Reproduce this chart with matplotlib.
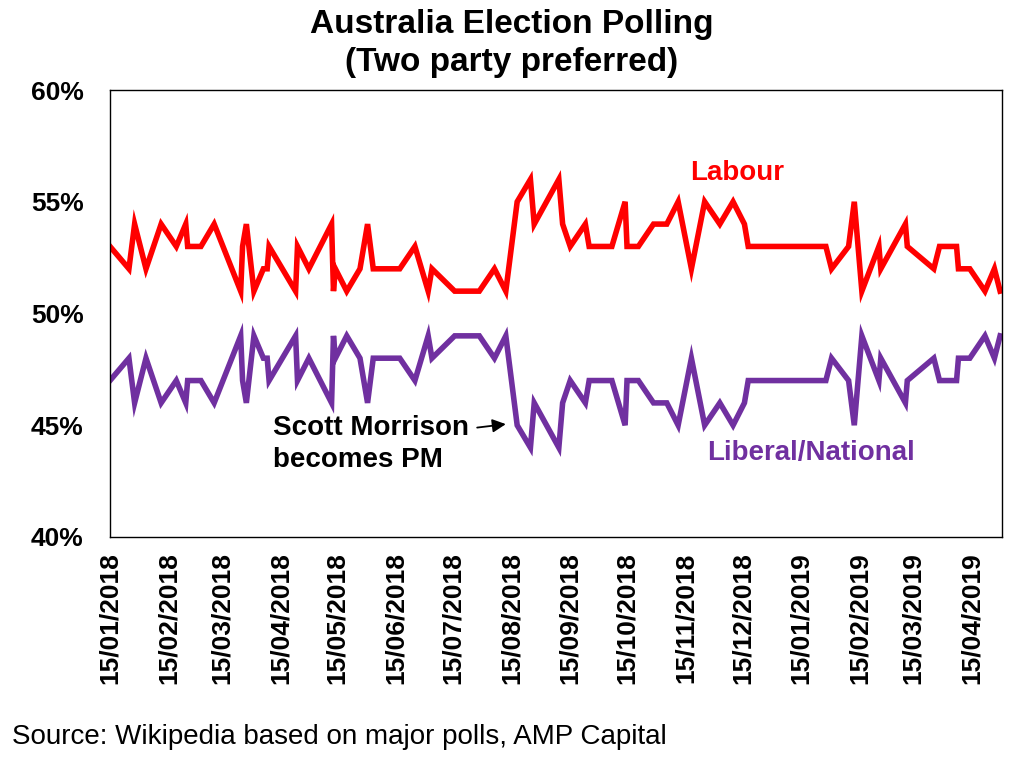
import numpy as np
import pandas as pd
import matplotlib
matplotlib.use("Agg")
from matplotlib import pyplot as plt
import matplotlib.dates as mdates
from matplotlib.ticker import FuncFormatter

plt.rcParams['font.family'] = ['Liberation Sans', 'DejaVu Sans']

# poll dates
datas = ['2018-01-15', '2018-01-25', '2018-01-28', '2018-02-03', '2018-02-11',
         '2018-02-19', '2018-02-24', '2018-02-25', '2018-03-04', '2018-03-11',
         '2018-03-25', '2018-03-26', '2018-03-28', '2018-04-01', '2018-04-06',
         '2018-04-08', '2018-04-09', '2018-04-23', '2018-04-24', '2018-04-30',
         '2018-05-12', '2018-05-13', '2018-05-14', '2018-05-20', '2018-05-27',
         '2018-05-31', '2018-06-03', '2018-06-17', '2018-06-25', '2018-07-02',
         '2018-07-04', '2018-07-16', '2018-07-29', '2018-08-06', '2018-08-12',
         '2018-08-18', '2018-08-25', '2018-08-27', '2018-09-09', '2018-09-11',
         '2018-09-15', '2018-09-23', '2018-09-25', '2018-10-07', '2018-10-14',
         '2018-10-15', '2018-10-21', '2018-10-29', '2018-11-05', '2018-11-11',
         '2018-11-18', '2018-11-25', '2018-12-03', '2018-12-10', '2018-12-16',
         '2018-12-18', '2019-01-28', '2019-01-31', '2019-02-09', '2019-02-12',
         '2019-02-16', '2019-02-25', '2019-02-26', '2019-03-11', '2019-03-12',
         '2019-03-26', '2019-03-29', '2019-04-07', '2019-04-08', '2019-04-14',
         '2019-04-22', '2019-04-27', '2019-04-30']

# two party preferred (%)
labour = [53, 52, 54, 52, 54, 53, 54, 53, 53, 54,
          51, 53, 54, 51, 52, 52, 53, 51, 53, 52,
          54, 51, 52, 51, 52, 54, 52, 52, 53, 51,
          52, 51, 51, 52, 51, 55, 56, 54, 56, 54,
          53, 54, 53, 53, 55, 53, 53, 54, 54, 55,
          52, 55, 54, 55, 54, 53, 53, 52, 53, 55,
          51, 53, 52, 54, 53, 52, 53, 53, 52, 52,
          51, 52, 51]
liberal = [47, 48, 46, 48, 46, 47, 46, 47, 47, 46,
           49, 47, 46, 49, 48, 48, 47, 49, 47, 48,
           46, 49, 48, 49, 48, 46, 48, 48, 47, 49,
           48, 49, 49, 48, 49, 45, 44, 46, 44, 46,
           47, 46, 47, 47, 45, 47, 47, 46, 46, 45,
           48, 45, 46, 45, 46, 47, 47, 48, 47, 45,
           49, 47, 48, 46, 47, 48, 47, 47, 48, 48,
           49, 48, 49]

t = pd.to_datetime(datas)
ticks = pd.date_range('2018-01-01', '2019-04-01', freq='MS') + pd.Timedelta(days=14)

vermelho = '#FF0000'
roxo = '#7030A0'

fig = plt.figure(figsize=(10.24, 7.62), dpi=100)
ax = fig.add_axes([110/1024, 1 - 537/762, (1002 - 110)/1024, (537 - 90)/762])

ax.plot(t, labour, color=vermelho, lw=4.0, solid_joinstyle='miter')
ax.plot(t, liberal, color=roxo, lw=4.0, solid_joinstyle='miter')

ax.set_ylim(40, 60)
ax.set_yticks([40, 45, 50, 55, 60])
ax.yaxis.set_major_formatter(FuncFormatter(lambda v, p: f'{v:.0f}%'))
ax.set_xlim(pd.Timestamp('2018-01-15'), pd.Timestamp('2019-05-01'))
ax.set_xticks(ticks)
ax.xaxis.set_major_formatter(mdates.DateFormatter('%d/%m/%Y'))
ax.tick_params(axis='both', length=0, labelsize=19)
ax.tick_params(axis='x', pad=11, labelrotation=90)
ax.tick_params(axis='y', pad=19)
for lab in ax.get_xticklabels() + ax.get_yticklabels():
    lab.set_fontweight('bold')
for s in ax.spines.values():
    s.set_linewidth(1.0)

ax.text(pd.Timestamp('2018-12-12'), 56.3, 'Labour', color=vermelho, fontsize=20,
        fontweight='bold', ha='center', va='center')
ax.text(pd.Timestamp('2019-01-20'), 43.75, 'Liberal/National', color=roxo, fontsize=20,
        fontweight='bold', ha='center', va='center')
ax.annotate('Scott Morrison\nbecomes PM', xy=(pd.Timestamp('2018-08-12'), 45.05),
            xytext=(pd.Timestamp('2018-04-11'), 44.15), fontsize=20, fontweight='bold',
            ha='left', va='center', linespacing=1.3,
            arrowprops=dict(arrowstyle='-|>', color='black', lw=1.3, mutation_scale=20,
                            shrinkA=4, shrinkB=0, relpos=(1.0, 0.77)))

fig.text(0.5, 1 - 25/762, 'Australia Election Polling', ha='center', va='center',
         fontsize=24, fontweight='bold')
fig.text(0.5, 1 - 62/762, '(Two party preferred)', ha='center', va='center',
         fontsize=24, fontweight='bold')
fig.text(12/1024, 1 - 737/762, 'Source: Wikipedia based on major polls, AMP Capital',
         ha='left', va='center', fontsize=20)

fig.savefig('out.png', dpi=100)
